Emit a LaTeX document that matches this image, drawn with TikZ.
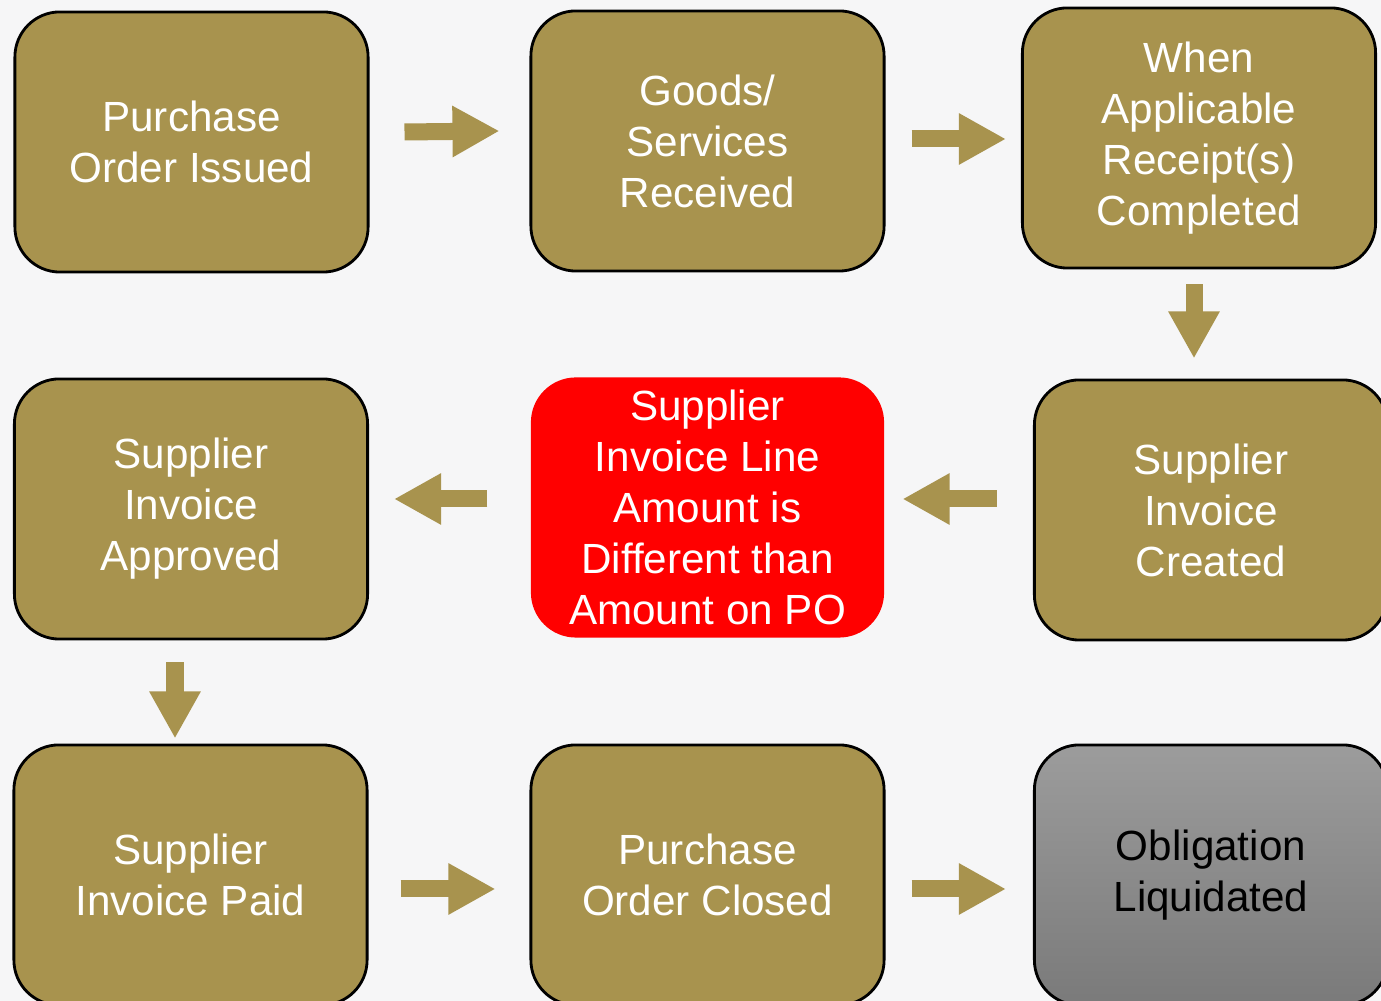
\documentclass[tikz,border=0pt]{standalone}
\usepackage{fontspec}
\setmainfont{Liberation Sans}
\usetikzlibrary{arrows.meta}

\definecolor{gold}{RGB}{168,147,78}
\definecolor{paper}{RGB}{246,246,247}
\definecolor{greytop}{RGB}{156,156,156}
\definecolor{greybot}{RGB}{122,122,122}

\begin{document}
\begin{tikzpicture}[x=0.01cm, y=-0.01cm,
  stage/.style={draw=black, line width=0.8pt, fill=gold, rounded corners=0.45cm,
    minimum width=3.53cm, minimum height=2.6cm, align=center, text=white,
    font=\fontsize{12pt}{14.5pt}\selectfont},
  alert/.style={stage, draw=none, fill=red},
  closed/.style={stage, top color=greytop, bottom color=greybot, text=black},
  flow/.style={draw=gold, line width=0.17cm, -{Triangle[length=0.47cm, width=0.48cm]}}
]

% Page and background
\clip (0,0) rectangle (1381,1001);
\fill[paper] (0,0) rectangle (1381,1001);

% First row
\node[stage] (issued) at (191.5,142) {Purchase\\Order Issued};
\node[stage] (received) at (707.5,141) {Goods/\\Services\\Received};
\node[stage] (receipts) at (1199,138) {When\\Applicable\\Receipt(s)\\Completed};

% Second row
\node[stage] (approved) at (191,509) {Supplier\\Invoice\\Approved};
\node[alert] (mismatch) at (707.5,507.5) {Supplier\\Invoice Line\\Amount is\\Different than\\Amount on PO};
\node[stage] (created) at (1211,510) {Supplier\\Invoice\\Created};

% Third row
\node[stage] (paid) at (190.5,875) {Supplier\\Invoice Paid};
\node[stage] (poclosed) at (707.5,875) {Purchase\\Order Closed};
\node[closed] (liquidated) at (1211,875) {Obligation\\Liquidated};

% Block arrows between stages
\draw[flow] ([shift={(35,-10)}]issued.east) -- ([shift={(-30,-10)}]received.west);
\draw[flow] ([shift={(26,-2)}]received.east) -- ([shift={(-15,1)}]receipts.west);
\draw[flow] ([shift={(-5,15)}]receipts.south) -- ([shift={(-17,-20)}]created.north);
\draw[flow] ([shift={(-36,-11)}]created.west) -- ([shift={(17,-8.5)}]mismatch.east);
\draw[flow] ([shift={(-42,-8.5)}]mismatch.west) -- ([shift={(25,-10)}]approved.east);
\draw[flow] ([shift={(-16,22)}]approved.south) -- ([shift={(-15.5,-5)}]paid.north);
\draw[flow] ([shift={(32,14)}]paid.east) -- ([shift={(-34,14)}]poclosed.west);
\draw[flow] ([shift={(26,14)}]poclosed.east) -- ([shift={(-27,14)}]liquidated.west);

\end{tikzpicture}
\end{document}
